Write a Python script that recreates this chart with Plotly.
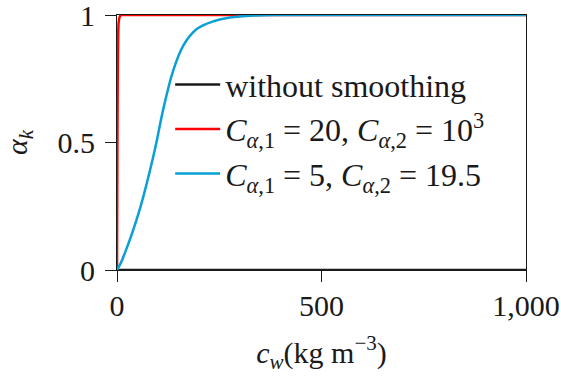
import plotly.graph_objects as go

# Concentration axis (kg m^-3) and volume fraction alpha_k for each closure
cw_sharp = [0, 1000]
alpha_sharp = [0, 0]

cw_red = [0, 1, 2, 3, 4, 6, 8, 10, 15, 1000]
alpha_red = [0, 0.5, 0.8, 0.93, 0.97, 0.99, 0.997, 1.0, 1.0, 1.0]

cw_blue = [0, 10, 20, 36, 56, 72, 88, 97, 113, 137, 162, 195, 235, 276, 340, 400, 1000]
alpha_blue = [0, 0.03, 0.07, 0.14, 0.24, 0.335, 0.44, 0.505, 0.63, 0.78, 0.88,
              0.945, 0.975, 0.99, 0.998, 1.0, 1.0]

names = [
    "without smoothing",
    "<i>C</i><sub><i>α</i>,1</sub> = 20, <i>C</i><sub><i>α</i>,2</sub> = 10<sup>3</sup>",
    "<i>C</i><sub><i>α</i>,1</sub> = 5, <i>C</i><sub><i>α</i>,2</sub> = 19.5",
]
colors = ["#1a1a1a", "#ff0000", "#0aa0d6"]

x_ticks = [0, 500, 1000]
x_ticklabels = ["0", "500", "1,000"]
y_ticks = [0, 0.5, 1]
y_ticklabels = ["0", "0.5", "1"]

FONT = "Liberation Serif"
INK = "#1a1a1a"

fig = go.Figure()
fig.add_trace(go.Scatter(x=cw_sharp, y=alpha_sharp, mode="lines", name=names[0],
                         line=dict(color=colors[0], width=2.5)))
fig.add_trace(go.Scatter(x=cw_red, y=alpha_red, mode="lines", name=names[1],
                         line=dict(color=colors[1], width=2.5, shape="spline", smoothing=0.6)))
fig.add_trace(go.Scatter(x=cw_blue, y=alpha_blue, mode="lines", name=names[2],
                         line=dict(color=colors[2], width=2.5, shape="spline", smoothing=1.0)))

axis_common = dict(
    showline=True, linecolor=INK, linewidth=1, mirror=True,
    ticks="outside", ticklen=11, tickcolor=INK, tickwidth=1,
    showgrid=False, zeroline=False, ticklabeloverflow="allow",
    automargin=False,
    tickfont=dict(family=FONT, size=30, color=INK),
)

fig.update_xaxes(
    range=[0, 1000], tickvals=x_ticks, ticktext=x_ticklabels,
    ticklabelstandoff=-2,
    title=dict(text="<i>c</i><sub><i>w</i></sub>(kg m<sup>−3</sup>)",
               font=dict(family=FONT, size=30, color=INK), standoff=20),
    **axis_common,
)
fig.update_yaxes(
    range=[0, 1], tickvals=y_ticks, ticktext=y_ticklabels,
    ticklabelstandoff=4,
    title=dict(text="<i>α</i><sub><i>k</i></sub>",
               font=dict(family=FONT, size=30, color=INK), standoff=24),
    **axis_common,
)

fig.update_layout(
    width=561, height=382,
    margin=dict(l=117, r=35, t=15, b=112, autoexpand=False),
    paper_bgcolor="white", plot_bgcolor="white",
    showlegend=True,
    legend=dict(
        x=0.13, y=0.835, xanchor="left", yanchor="top",
        bgcolor="rgba(0,0,0,0)", borderwidth=0, itemwidth=45,
        font=dict(family=FONT, size=32, color=INK),
        tracegroupgap=0,
    ),
)

fig.write_html("out.html")
